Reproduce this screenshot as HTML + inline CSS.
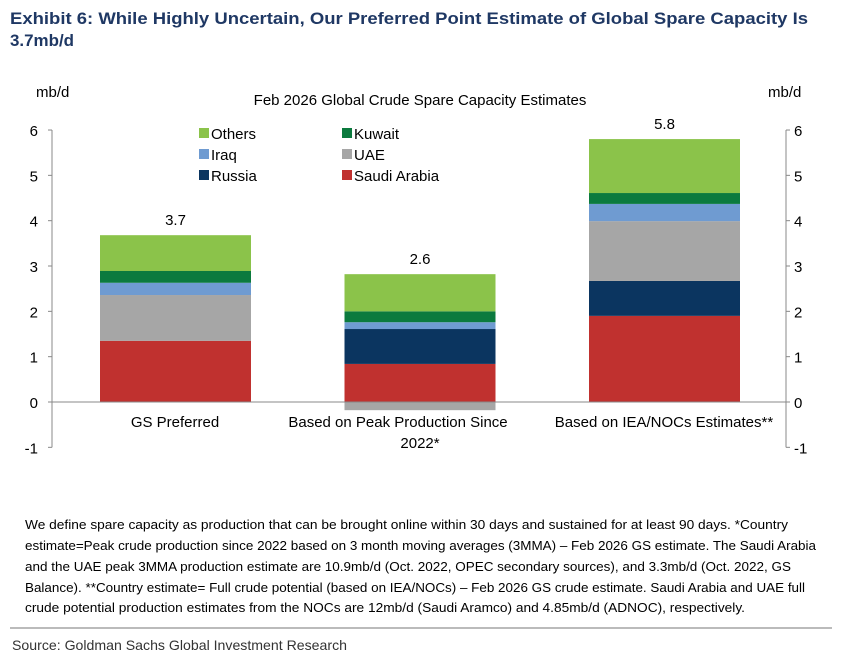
<!DOCTYPE html>
<html><head><meta charset="utf-8"><style>
body{margin:0;background:#fff;}
svg{display:block;font-family:"Liberation Sans",Arial,sans-serif;}
</style></head><body>
<svg id="c" width="852" height="662" viewBox="0 0 852 662">
<text x="10" y="24" font-size="17" font-weight="bold" fill="#1f3864" textLength="798" lengthAdjust="spacingAndGlyphs">Exhibit 6: While Highly Uncertain, Our Preferred Point Estimate of Global Spare Capacity Is</text>
<text x="10" y="46" font-size="17" font-weight="bold" fill="#1f3864" textLength="64" lengthAdjust="spacingAndGlyphs">3.7mb/d</text>
<text x="420" y="105" font-size="15" text-anchor="middle" fill="#000">Feb 2026 Global Crude Spare Capacity Estimates</text>
<text x="36" y="97" font-size="15">mb/d</text>
<text x="768" y="97" font-size="15">mb/d</text>
<g id="plot"></g>
<g id="legend"></g>
<g font-size="13" fill="#000">
<text x="25" y="529" textLength="763" lengthAdjust="spacingAndGlyphs">We define spare capacity as production that can be brought online within 30 days and sustained for at least 90 days. *Country</text>
<text x="25" y="550" textLength="791" lengthAdjust="spacingAndGlyphs">estimate=Peak crude production since 2022 based on 3 month moving averages (3MMA) – Feb 2026 GS estimate. The Saudi Arabia</text>
<text x="25" y="571" textLength="766" lengthAdjust="spacingAndGlyphs">and the UAE peak 3MMA production estimate are 10.9mb/d (Oct. 2022, OPEC secondary sources), and 3.3mb/d (Oct. 2022, GS</text>
<text x="25" y="592" textLength="780" lengthAdjust="spacingAndGlyphs">Balance). **Country estimate= Full crude potential (based on IEA/NOCs) – Feb 2026 GS crude estimate. Saudi Arabia and UAE full</text>
<text x="25" y="612" textLength="720" lengthAdjust="spacingAndGlyphs">crude potential production estimates from the NOCs are 12mb/d (Saudi Aramco) and 4.85mb/d (ADNOC), respectively.</text>
</g>
<line x1="10" y1="628" x2="832" y2="628" stroke="#777" stroke-width="1"/>
<text x="12" y="650" font-size="14" fill="#333" textLength="335" lengthAdjust="spacingAndGlyphs">Source: Goldman Sachs Global Investment Research</text>
</svg>
<script>
const categories=["GS Preferred","Based on Peak Production Since 2022*","Based on IEA/NOCs Estimates**"];
const seriesNames=["Saudi Arabia","Russia","UAE","Iraq","Kuwait","Others"];
const saudi=[1.35,0.84,1.9];
const russia=[0,0.77,0.77];
const uae=[1.01,-0.18,1.32];
const iraq=[0.27,0.15,0.38];
const kuwait=[0.26,0.24,0.24];
const others=[0.79,0.82,1.19];
const totals=["3.7","2.6","5.8"];
const yTicks=[-1,0,1,2,3,4,5,6];
const colors=["#c0312f","#0b3560","#a6a6a6","#6f9bd1","#0b7a3e","#8bc34a"];
const NS="http://www.w3.org/2000/svg";
const plot=document.getElementById('plot');
const y0=402,ppu=45.33,xL=52,xR=786;
const y=v=>y0-v*ppu;
const bx=i=>100+i*244.5, bw=151;
function mk(t,a,p){const e=document.createElementNS(NS,t);for(const k in a)e.setAttribute(k,a[k]);(p||plot).appendChild(e);return e;}
// axes
let e=mk('line',{x1:xL,y1:y(6),x2:xL,y2:y(-1),stroke:'#888'});


e=mk('line',{x1:xR,y1:y(6),x2:xR,y2:y(-1),stroke:'#888'});


yTicks.forEach(t=>{
 mk('line',{x1:xL-4,y1:y(t),x2:xL,y2:y(t),stroke:'#888'});
 mk('line',{x1:xR,y1:y(t),x2:xR+4,y2:y(t),stroke:'#888'});
 let a=mk('text',{x:38,y:y(t)+6,'font-size':15,'text-anchor':'end'});a.textContent=t;
 
 
 let b=mk('text',{x:794,y:y(t)+6,'font-size':15});b.textContent=t;
 
 
});
const series=[saudi,russia,uae,iraq,kuwait,others];
categories.forEach((c,i)=>{
 let pos=0,neg=0;
 series.forEach((s,k)=>{
  const v=s[i]; if(!v)return;
  let top,bot;
  if(v>=0){bot=pos;top=pos+v;pos=top;}else{top=neg;bot=neg+v;neg=bot;}
  const r=mk('rect',{x:bx(i),y:y(top),width:bw,height:(top-bot)*ppu,fill:colors[k]});
  
  
 });
 const t=mk('text',{x:bx(i)+bw/2,y:y(pos)-10,'font-size':15,'text-anchor':'middle'});t.textContent=totals[i];
 
 
});
e=mk('line',{x1:xL,y1:y0,x2:xR,y2:y0,stroke:'#888'});


// category labels
const catPos=[[175,427,"GS Preferred"],[398,427,"Based on Peak Production Since"],[420,448,"2022*"],[664,427,"Based on IEA/NOCs Estimates**"]];
catPos.forEach(p=>{const t=mk('text',{x:p[0],y:p[1],'font-size':15,'text-anchor':'middle'});t.textContent=p[2];
 
 });
// legend
const leg=document.getElementById('legend');
const legItems=[[5,199,133],[4,342,133],[3,199,154],[2,342,154],[1,199,175],[0,342,175]];
legItems.forEach(l=>{
 const g=mk('g',{},leg);
 
 
 mk('rect',{x:l[1],y:l[2]-5,width:10,height:10,fill:colors[l[0]]},g);
 const t=mk('text',{x:l[1]+12,y:l[2]+6,'font-size':15},g);t.textContent=seriesNames[l[0]];
});
</script>
</body></html>
